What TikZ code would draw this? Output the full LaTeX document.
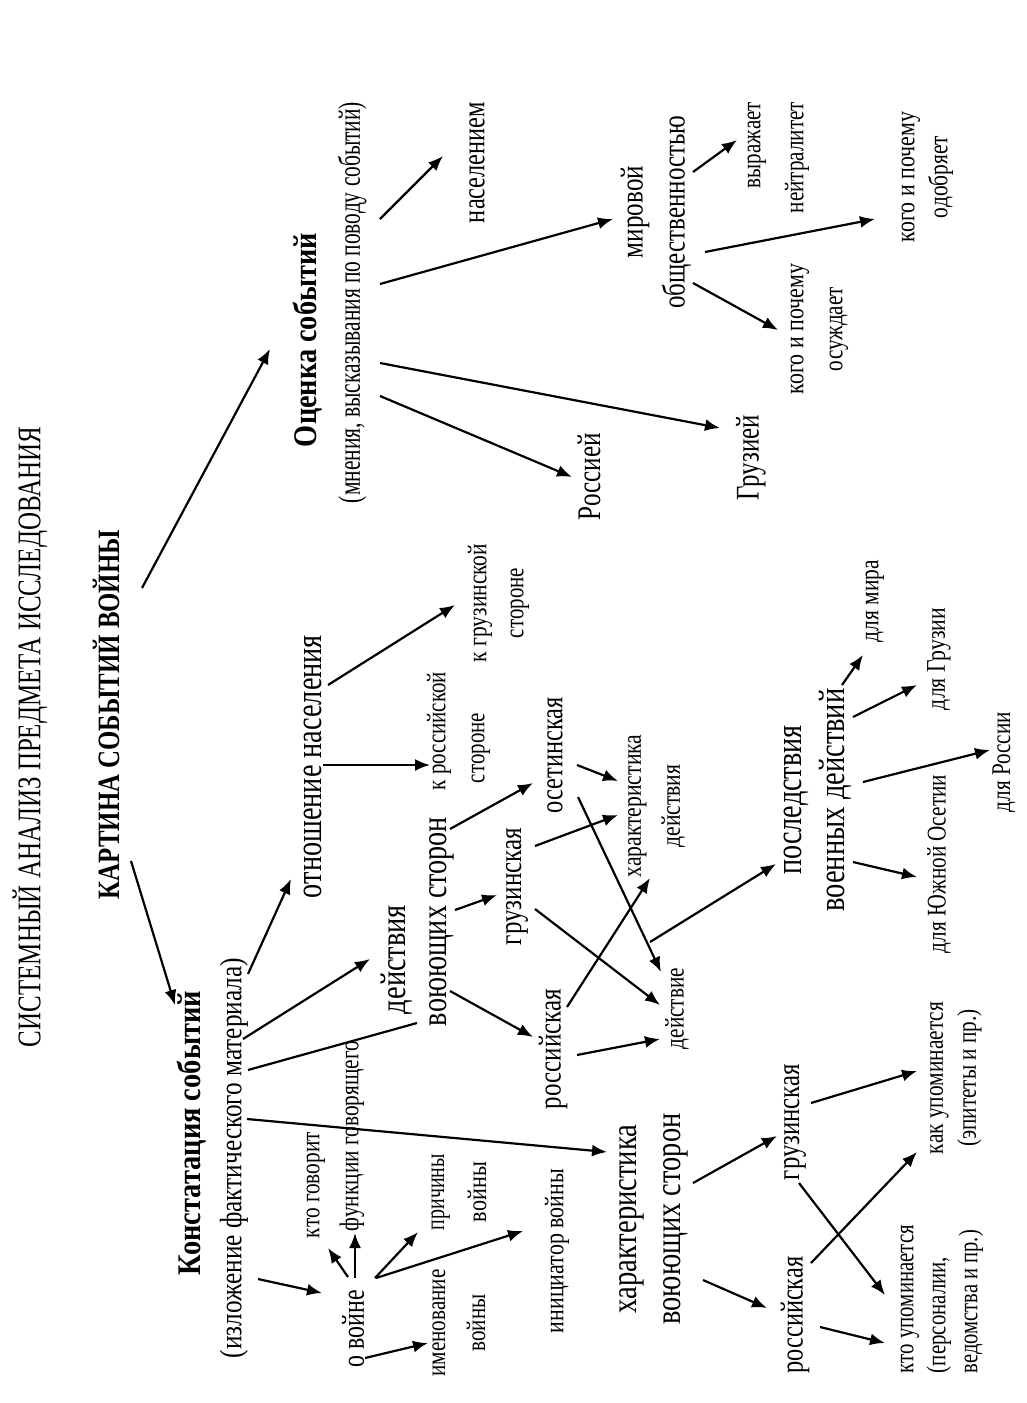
\documentclass[tikz,border=0pt]{standalone}
\usepackage{fontspec}
\setmainfont{Liberation Serif}
\usetikzlibrary{arrows.meta}
\newcommand{\fsz}[2]{\fontsize{#1}{#2}\selectfont}
% set a text line to an exact length (horizontal scaling only)
\newcommand{\fw}[2]{\resizebox{#1pt}{\height}{#2}}
\tikzset{
  lbl/.style={rotate=90, inner sep=0pt, align=center},
  big/.style={font=\fsz{36}{43}},
  mid/.style={font=\fsz{32}{42}},
  sml/.style={font=\fsz{27}{40}},
  arr/.style={-{Latex[length=15pt,width=12pt]}, line width=2.2pt},
  ln/.style={line width=2.2pt}
}
\begin{document}
\begin{tikzpicture}[x=1pt,y=1pt]
\fill[white] (0,0) rectangle (1027,-1403);
\useasboundingbox (0,0) rectangle (1027,-1403);

% ---------- headers ----------
\node[lbl, font=\fsz{33}{40}] (hdr) at (30,-737) {\fw{620}{СИСТЕМНЫЙ АНАЛИЗ ПРЕДМЕТА ИССЛЕДОВАНИЯ}};
\node[lbl, font=\fsz{31}{40}\bfseries] (kart) at (106,-714.5) {\fw{369}{КАРТИНА СОБЫТИЙ ВОЙНЫ}};
\node[lbl, font=\fsz{33}{40}\bfseries] (konst) at (192,-1133) {\fw{284}{Констатация событий}};
\node[lbl, font=\fsz{31}{40}] (konstsub) at (234,-1158) {\fw{400}{(изложение фактического материала)}};
\node[lbl, font=\fsz{33}{40}\bfseries] (ocenka) at (308,-340) {\fw{214}{Оценка событий}};
\node[lbl, font=\fsz{31}{40}] (ocenkasub) at (352,-302.5) {\fw{401}{(мнения, высказывания по поводу событий)}};

% ---------- left branch ----------
\node[lbl, mid] (ovojne) at (353,-1328.5) {\fw{77}{о войне}};
\node[lbl, sml] (kto) at (316,-1185) {\fw{106}{кто говорит}};
\node[lbl, sml] (funk) at (352,-1136) {\fw{190}{функции говорящего}};
\node[lbl, font=\fsz{27}{42}] (prich) at (459,-1192) {\fw{76}{причины}\\\fw{60}{войны}};
\node[lbl, font=\fsz{27}{40}] (imen) at (459,-1323) {\fw{107}{именование}\\\fw{57}{войны}};
\node[lbl, sml] (inic) at (557,-1251) {\fw{164}{инициатор войны}};

\node[lbl, font=\fsz{37}{43}] (otn) at (313,-766.5) {\fw{263}{отношение населения}};
\node[lbl, font=\fsz{27}{39}, align=left] (krs) at (458.5,-731) {\fw{118}{к российской}\\\hspace*{7pt}\fw{70}{стороне}};
\node[lbl, font=\fsz{27}{37}] (kgs) at (498.5,-603) {\fw{118}{к грузинской}\\\fw{70}{стороне}};

\node[lbl, font=\fsz{36}{41}, align=left] (deist) at (417.5,-921.5) {\hspace*{12pt}\fw{109}{действия}\\\fw{209}{воюющих сторон}};
\node[lbl, mid] (gruzA) at (517,-886.5) {\fw{117}{грузинская}};
\node[lbl, mid] (osetA) at (555,-755) {\fw{116}{осетинская}};
\node[lbl, mid] (rosA) at (553,-1049) {\fw{120}{российская}};
\node[lbl, font=\fsz{27}{39}] (harD) at (656.5,-806) {\fw{143}{характеристика}\\\fw{83}{действия}};
\node[lbl, sml] (deistvie) at (677,-1008.5) {\fw{81}{действие}};

\node[lbl, font=\fsz{37}{43}] (posl) at (817.5,-800) {\fw{149}{последствия}\\\fw{223}{военных действий}};
\node[lbl, sml] (dMira) at (875,-601) {\fw{82}{для мира}};
\node[lbl, sml] (dGruz) at (939,-659) {\fw{102}{для Грузии}};
\node[lbl, sml] (dRos) at (1004,-762) {\fw{100}{для России}};
\node[lbl, sml] (dYuO) at (939,-864) {\fw{178}{для Южной Осетии}};

\node[lbl, font=\fsz{36}{44}] (harS) at (654,-1219) {\fw{189}{характеристика}\\\fw{211}{воюющих сторон}};
\node[lbl, mid] (gruzS) at (795,-1122) {\fw{116}{грузинская}};
\node[lbl, mid] (rosS) at (795,-1315) {\fw{117}{российская}};
\node[lbl, font=\fsz{27}{33}] (kakUp) at (956,-1078) {\fw{152}{как упоминается}\\\fw{137.5}{(эпитеты и пр.)}};
\node[lbl, font=\fsz{27}{32}, align=left] (ktoUp) at (942,-1299) {\fw{148}{кто упоминается}\\\fw{116}{(персоналии,}\\\fw{143}{ведомства и пр.)}};

% ---------- right branch ----------
\node[lbl, mid] (naselen) at (477,-162.5) {\fw{121}{населением}};
\node[lbl, font=\fsz{32}{42}] (mirovoi) at (656,-212) {\fw{92}{мировой}\\\fw{193}{общественностью}};
\node[lbl, font=\fsz{33}{40}] (rossiei) at (589,-476.5) {\fw{87}{Россией}};
\node[lbl, font=\fsz{33}{40}] (gruziei) at (751,-457.5) {\fw{85}{Грузией}};
\node[lbl, font=\fsz{27}{43}, align=right] (vyrazh) at (778.5,-157.5) {\fw{86}{выражает}\\\fw{111}{нейтралитет}};
\node[lbl, font=\fsz{27}{33}] (odobr) at (927.5,-177) {\fw{130}{кого и почему}\\\fw{82}{одобряет}};
\node[lbl, font=\fsz{27}{39}] (osuzhd) at (819.5,-329) {\fw{130}{кого и почему}\\\fw{84}{осуждает}};

% ---------- connector end points ----------
\coordinate (kartA) at (131,-861);   \coordinate (konstT) at (175,-1005);
\coordinate (kartB) at (142,-588);   \coordinate (ocenkaT) at (270,-349);
\coordinate (kA) at (248,-974);      \coordinate (otnT) at (291,-879);
\coordinate (kB) at (243,-1039);     \coordinate (deistT) at (370,-959);
\coordinate (kC) at (248,-1070);     \coordinate (deistL) at (417,-1023);
\coordinate (kD) at (247,-1119);     \coordinate (harST) at (607,-1152);
\coordinate (kE) at (258,-1279);     \coordinate (ovojneT) at (322,-1293);
\coordinate (oA) at (348,-1277);     \coordinate (ktoT) at (328,-1248);
\coordinate (oB) at (355,-1278);     \coordinate (funkT) at (355,-1233);
\coordinate (oC) at (375,-1278);     \coordinate (prichT) at (418,-1232);
\coordinate (oD) at (376,-1278);     \coordinate (inicT) at (523,-1231);
\coordinate (oE) at (365,-1358);     \coordinate (imenT) at (428,-1343);
\coordinate (dA) at (455,-910);      \coordinate (gruzAT) at (497,-895);
\coordinate (dB) at (450,-991);      \coordinate (rosAT) at (533,-1037);
\coordinate (dC) at (450,-829);      \coordinate (osetAT) at (533,-783);
\coordinate (otA) at (323,-765);     \coordinate (krsT) at (430,-765);
\coordinate (otB) at (328,-685);     \coordinate (kgsT) at (455,-605);
\coordinate (osA) at (577,-765);     \coordinate (harDT1) at (618,-781);
\coordinate (osB) at (578,-797);     \coordinate (deistvieT1) at (661,-972);
\coordinate (grA) at (535,-846);     \coordinate (harDT2) at (618,-815);
\coordinate (grB) at (535,-909);     \coordinate (deistvieT2) at (660,-1005);
\coordinate (roA) at (567,-1007);    \coordinate (harDT3) at (650,-878);
\coordinate (roB) at (577,-1055);    \coordinate (deistvieT3) at (660,-1039);
\coordinate (deA) at (650,-942);     \coordinate (poslT) at (776,-864);
\coordinate (pA) at (842,-685);      \coordinate (dMiraT) at (863,-655);
\coordinate (pB) at (853,-717);      \coordinate (dGruzT) at (917,-685);
\coordinate (pC) at (863,-782);      \coordinate (dRosT) at (990,-750);
\coordinate (pD) at (853,-862);      \coordinate (dYuOT) at (917,-877);
\coordinate (ocA) at (380,-219);     \coordinate (naselenT) at (443,-156);
\coordinate (ocB) at (380,-284);     \coordinate (mirovoiT) at (613,-219);
\coordinate (ocC) at (380,-363);     \coordinate (gruzieiT) at (720,-428);
\coordinate (ocD) at (380,-396);     \coordinate (rossieiT) at (572,-477);
\coordinate (mA) at (693,-172);      \coordinate (vyrazhT) at (737,-140);
\coordinate (mB) at (705,-252);      \coordinate (odobrT) at (875,-219);
\coordinate (mC) at (693,-283);      \coordinate (osuzhdT) at (778,-330);
\coordinate (hA) at (693,-1183);     \coordinate (gruzST) at (777,-1136);
\coordinate (hB) at (703,-1280);     \coordinate (rosST) at (767,-1308);
\coordinate (gsA) at (811,-1103);    \coordinate (kakUpT1) at (917,-1071);
\coordinate (gsB) at (799,-1183);    \coordinate (ktoUpT1) at (885,-1295);
\coordinate (rsA) at (811,-1263);    \coordinate (kakUpT2) at (917,-1152);
\coordinate (rsB) at (820,-1327);    \coordinate (ktoUpT2) at (885,-1343);

% ---------- connectors ----------
\draw[arr] (kartA) -- (konstT);
\draw[arr] (kartB) -- (ocenkaT);
\draw[arr] (kA) -- (otnT);
\draw[arr] (kB) -- (deistT);
\draw[ln]  (kC) -- (deistL);
\draw[arr] (kD) -- (harST);
\draw[arr] (kE) -- (ovojneT);
\draw[arr] (oA) -- (ktoT);
\draw[arr] (oB) -- (funkT);
\draw[arr] (oC) -- (prichT);
\draw[arr] (oD) -- (inicT);
\draw[arr] (oE) -- (imenT);
\draw[arr] (dA) -- (gruzAT);
\draw[arr] (dB) -- (rosAT);
\draw[arr] (dC) -- (osetAT);
\draw[arr] (otA) -- (krsT);
\draw[arr] (otB) -- (kgsT);
\draw[arr] (osA) -- (harDT1);
\draw[arr] (osB) -- (deistvieT1);
\draw[arr] (grA) -- (harDT2);
\draw[arr] (grB) -- (deistvieT2);
\draw[arr] (roA) -- (harDT3);
\draw[arr] (roB) -- (deistvieT3);
\draw[arr] (deA) -- (poslT);
\draw[arr] (pA) -- (dMiraT);
\draw[arr] (pB) -- (dGruzT);
\draw[arr] (pC) -- (dRosT);
\draw[arr] (pD) -- (dYuOT);
\draw[arr] (ocA) -- (naselenT);
\draw[arr] (ocB) -- (mirovoiT);
\draw[arr] (ocC) -- (gruzieiT);
\draw[arr] (ocD) -- (rossieiT);
\draw[arr] (mA) -- (vyrazhT);
\draw[arr] (mB) -- (odobrT);
\draw[arr] (mC) -- (osuzhdT);
\draw[arr] (hA) -- (gruzST);
\draw[arr] (hB) -- (rosST);
\draw[arr] (gsA) -- (kakUpT1);
\draw[arr] (gsB) -- (ktoUpT1);
\draw[arr] (rsA) -- (kakUpT2);
\draw[arr] (rsB) -- (ktoUpT2);
\end{tikzpicture}
\end{document}
